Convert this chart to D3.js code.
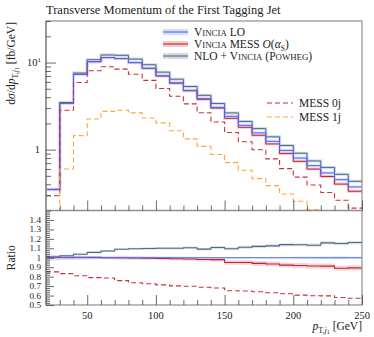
<!DOCTYPE html>
<html>
<head>
<meta charset="utf-8">
<script src="https://cdn.jsdelivr.net/npm/d3@7"></script>
<style>
  body { margin: 0; background: #fff; }
  text { font-family: "Liberation Serif", "DejaVu Serif", serif; fill: #222; }
</style>
</head>
<body>
<script>
// bin edges in GeV (10 GeV bins)
const binEdges = [20, 30, 40, 50, 60, 70, 80, 90, 100, 110, 120, 130, 140, 150, 160, 170, 180, 190, 200, 210, 220, 230, 240, 250];

// dsigma/dpT [fb/GeV]
const vinciaLO = [0.347, 3.4, 7.3, 10.2, 11.4, 11.1, 10.0, 8.6, 7.05, 5.85, 4.8, 3.85, 3.06, 2.41, 1.9, 1.556, 1.245, 0.98, 0.80, 0.655, 0.54, 0.452, 0.373];
const vinciaMESS = [0.350, 3.42, 7.34, 10.24, 11.4, 11.1, 9.97, 8.57, 7.0, 5.79, 4.74, 3.78, 3.0, 2.29, 1.805, 1.463, 1.162, 0.904, 0.734, 0.598, 0.492, 0.402, 0.333];
const nloVincia = [0.349, 3.47, 7.57, 10.78, 12.22, 12.10, 10.96, 9.44, 7.76, 6.44, 5.31, 4.20, 3.39, 2.64, 2.11, 1.743, 1.402, 1.116, 0.910, 0.742, 0.625, 0.520, 0.433];
const mess0j = [0.295, 2.83, 5.91, 8.06, 8.95, 8.41, 7.35, 6.24, 5.03, 4.11, 3.35, 2.65, 2.08, 1.57, 1.23, 0.996, 0.784, 0.606, 0.484, 0.392, 0.322, 0.262, 0.213];
const mess1j = [0.05, 0.6, 1.45, 2.25, 2.75, 2.83, 2.64, 2.31, 2.03, 1.65, 1.33, 1.09, 0.88, 0.71, 0.58, 0.465, 0.386, 0.31, 0.255, 0.204, 0.16, 0.13, 0.10];

// relative uncertainties (bands)
const loErr = [0.03, 0.025, 0.02, 0.015, 0.012, 0.01, 0.01, 0.01, 0.01, 0.01, 0.01, 0.01, 0.008, 0.008, 0.008, 0.008, 0.008, 0.008, 0.01, 0.01, 0.012, 0.012, 0.01];
const messErr = [0.015, 0.012, 0.012, 0.012, 0.015, 0.02, 0.02, 0.018, 0.018, 0.02, 0.02, 0.022, 0.025, 0.025, 0.025, 0.028, 0.028, 0.028, 0.03, 0.03, 0.03, 0.03, 0.03];
const nloErr = [0.01, 0.01, 0.01, 0.01, 0.01, 0.01, 0.01, 0.012, 0.012, 0.012, 0.012, 0.012, 0.014, 0.014, 0.014, 0.014, 0.014, 0.014, 0.015, 0.015, 0.015, 0.015, 0.015];

const W = 374, H = 337;
const L = 46, R = 362, mainTop = 21, mainBot = 210.5, ratioBot = 305;

const svg = d3.select("body").append("svg")
    .attr("width", W)
    .attr("height", H);

const x = d3.scaleLinear().domain([20, 250]).range([L, R]);
const y = d3.scaleLog().domain([0.2, 30]).range([mainBot, mainTop]);
const yr = d3.scaleLinear().domain([0.5, 1.5]).range([ratioBot, mainBot]);

const col = {
    lo: "#4a6bff", loBand: "#d4dcfd",
    mess: "#c0222e", messBand: "#f2cdd0",
    nlo: "#4e6a89", nloBand: "#d2dae4",
    j0: "#c8303c", j1: "#ffa53c"
};

// clip paths
const defs = svg.append("defs");
defs.append("clipPath").attr("id", "clipMain").append("rect")
    .attr("x", L).attr("y", mainTop).attr("width", R - L).attr("height", mainBot - mainTop);
defs.append("clipPath").attr("id", "clipRatio").append("rect")
    .attr("x", L).attr("y", mainBot).attr("width", R - L).attr("height", ratioBot - mainBot);

// step points: one per bin start, plus closing point at last edge
function steps(vals) {
    const pts = vals.map((v, i) => [binEdges[i], v]);
    pts.push([binEdges[binEdges.length - 1], vals[vals.length - 1]]);
    return pts;
}
function bandPts(vals, err) {
    const pts = vals.map((v, i) => [binEdges[i], v * (1 - err[i]), v * (1 + err[i])]);
    pts.push([binEdges[binEdges.length - 1], pts[pts.length - 1][1], pts[pts.length - 1][2]]);
    return pts;
}

const lineMain = d3.line().curve(d3.curveStepAfter).x(d => x(d[0])).y(d => y(Math.max(d[1], 0.05)));
const lineRatio = d3.line().curve(d3.curveStepAfter).x(d => x(d[0])).y(d => yr(d[1]));
const areaMain = d3.area().curve(d3.curveStepAfter).x(d => x(d[0])).y0(d => y(d[1])).y1(d => y(d[2]));
const areaRatio = d3.area().curve(d3.curveStepAfter).x(d => x(d[0])).y0(d => yr(d[1])).y1(d => yr(d[2]));

// ---- main panel ----
const main = svg.append("g").attr("clip-path", "url(#clipMain)");

const solidSeries = [
    { vals: nloVincia, err: nloErr, line: col.nlo, band: col.nloBand },
    { vals: vinciaMESS, err: messErr, line: col.mess, band: col.messBand },
    { vals: vinciaLO, err: loErr, line: col.lo, band: col.loBand }
];

solidSeries.forEach(s => {
    main.append("path")
        .attr("d", lineMain(steps(s.vals)))
        .attr("fill", "none")
        .attr("stroke", s.band)
        .attr("stroke-width", 3);
    main.append("path")
        .attr("d", areaMain(bandPts(s.vals, s.err)))
        .attr("fill", s.band);
});
solidSeries.forEach(s => {
    main.append("path")
        .attr("d", lineMain(steps(s.vals)))
        .attr("fill", "none")
        .attr("stroke", s.line)
        .attr("stroke-width", 1);
});

main.append("path")
    .attr("d", lineMain(steps(mess0j)))
    .attr("fill", "none")
    .attr("stroke", col.j0)
    .attr("stroke-width", 1.1)
    .attr("stroke-dasharray", "5,3");
main.append("path")
    .attr("d", lineMain(steps(mess1j)))
    .attr("fill", "none")
    .attr("stroke", col.j1)
    .attr("stroke-width", 1.1)
    .attr("stroke-dasharray", "5,3");

// ---- ratio panel ----
const ratio = svg.append("g").attr("clip-path", "url(#clipRatio)");
const ratioOf = vals => vals.map((v, i) => v / vinciaLO[i]);

solidSeries.forEach(s => {
    ratio.append("path")
        .attr("d", areaRatio(bandPts(ratioOf(s.vals), s.err)))
        .attr("fill", s.band)
        .attr("opacity", 0.85);
});
solidSeries.forEach(s => {
    ratio.append("path")
        .attr("d", lineRatio(steps(ratioOf(s.vals))))
        .attr("fill", "none")
        .attr("stroke", s.line)
        .attr("stroke-width", 1.1);
});
ratio.append("path")
    .attr("d", lineRatio(steps(ratioOf(mess0j))))
    .attr("fill", "none")
    .attr("stroke", col.j0)
    .attr("stroke-width", 1.1)
    .attr("stroke-dasharray", "5,3");

// ---- frames ----
svg.append("rect")
    .attr("x", L).attr("y", mainTop).attr("width", R - L).attr("height", ratioBot - mainTop)
    .attr("fill", "none").attr("stroke", "#8e8e8e").attr("stroke-width", 1.2);
svg.append("line")
    .attr("x1", L).attr("x2", R).attr("y1", mainBot).attr("y2", mainBot)
    .attr("stroke", "#8e8e8e").attr("stroke-width", 1.6);
svg.append("line")
    .attr("x1", L).attr("x2", L).attr("y1", mainTop).attr("y2", ratioBot)
    .attr("stroke", "#8e8e8e").attr("stroke-width", 1.6);

// ---- ticks ----
const tickCol = "#444";
function drawAxis(axis, tx, ty) {
    const g = svg.append("g").attr("transform", `translate(${tx},${ty})`).call(axis);
    g.select(".domain").remove();
    g.selectAll(".tick line").attr("stroke", tickCol).attr("stroke-width", 0.8);
    g.selectAll(".tick text").remove();
    return g;
}

const logMajor = [1, 10];
const logMinor = [0.2, 0.3, 0.4, 0.5, 0.6, 0.7, 0.8, 0.9, 2, 3, 4, 5, 6, 7, 8, 9, 20, 30];
drawAxis(d3.axisLeft(y).tickValues(logMajor).tickSize(-10), L, 0);
drawAxis(d3.axisLeft(y).tickValues(logMinor).tickSize(-5), L, 0);

const ratioMajor = d3.range(5, 15).map(d => d / 10);
const ratioMinor = d3.range(25, 75).map(d => d / 50).filter(d => Math.abs(d * 10 - Math.round(d * 10)) > 1e-6);
drawAxis(d3.axisLeft(yr).tickValues(ratioMajor).tickSize(-8), L, 0);
drawAxis(d3.axisLeft(yr).tickValues(ratioMinor).tickSize(-4), L, 0);

const xMajor = [50, 100, 150, 200, 250];
const xMinor = d3.range(30, 250, 10).filter(d => d % 50 !== 0);
[mainBot, ratioBot].forEach(yy => {
    drawAxis(d3.axisBottom(x).tickValues(xMajor).tickSize(-10), 0, yy);
    drawAxis(d3.axisBottom(x).tickValues(xMinor).tickSize(-5), 0, yy);
});

// ---- tick labels ----
const labFs = 10.5;
// log axis labels
const l10 = svg.append("text").attr("x", L - 5).attr("y", y(10) + 3.5)
    .attr("text-anchor", "end").attr("font-size", labFs);
l10.append("tspan").text("10");
l10.append("tspan").attr("font-size", 7).attr("dy", -4).text("1");
svg.append("text").attr("x", L - 6).attr("y", y(1) + 3.5)
    .attr("text-anchor", "end").attr("font-size", labFs).text("1");

svg.append("g").selectAll("text")
    .data(ratioMajor)
    .join("text")
    .attr("x", L - 5)
    .attr("y", d => yr(d) + 3)
    .attr("text-anchor", "end")
    .attr("font-size", 9.2)
    .text(d => d3.format("~g")(d));

svg.append("g").selectAll("text")
    .data(xMajor)
    .join("text")
    .attr("x", d => x(d))
    .attr("y", ratioBot + 13.5)
    .attr("text-anchor", "middle")
    .attr("font-size", labFs)
    .text(d => d);

// ---- titles ----
svg.append("text")
    .attr("x", L)
    .attr("y", 14)
    .attr("font-size", 12.5)
    .text("Transverse Momentum of the First Tagging Jet");

// x label
const xl = svg.append("text").attr("x", R).attr("y", 330)
    .attr("text-anchor", "end").attr("font-size", 11.5);
xl.append("tspan").attr("font-style", "italic").text("p");
xl.append("tspan").attr("font-size", 8).attr("dy", 2.5).text("T,");
xl.append("tspan").attr("font-size", 8).attr("font-style", "italic").text("j");
xl.append("tspan").attr("font-size", 6).attr("dy", 1.5).text("1");
xl.append("tspan").attr("dy", -4).text(" [GeV]");

// y label (main)
const yl = svg.append("text")
    .attr("transform", `translate(15,${mainTop + 1}) rotate(-90)`)
    .attr("text-anchor", "end").attr("font-size", 11.5);
yl.append("tspan").text("d");
yl.append("tspan").attr("font-style", "italic").text("σ");
yl.append("tspan").text("/d");
yl.append("tspan").attr("font-style", "italic").text("p");
yl.append("tspan").attr("font-size", 8).attr("dy", 2.5).text("T,");
yl.append("tspan").attr("font-size", 8).attr("font-style", "italic").text("j");
yl.append("tspan").attr("font-size", 6).attr("dy", 1.5).text("1");
yl.append("tspan").attr("dy", -4).text(" [fb/GeV]");

// ratio label
svg.append("text")
    .attr("transform", `translate(15,${(mainBot + ratioBot) / 2}) rotate(-90)`)
    .attr("text-anchor", "middle").attr("font-size", 11.5)
    .text("Ratio");

// ---- legend ----
function smallCaps(t, word, big, small) {
    t.append("tspan").attr("font-size", big).text(word[0]);
    t.append("tspan").attr("font-size", small).text(word.slice(1).toUpperCase());
}
const lgFs = 11.5, lgSc = 8.8;
const legendTop = [
    { y: 32, line: col.lo, band: col.loBand, id: "lo" },
    { y: 44, line: col.mess, band: col.messBand, id: "mess" },
    { y: 56, line: col.nlo, band: col.nloBand, id: "nlo" }
];
legendTop.forEach(d => {
    svg.append("rect").attr("x", 163).attr("y", d.y - 3).attr("width", 25).attr("height", 6)
        .attr("fill", d.band);
    svg.append("line").attr("x1", 163).attr("x2", 188).attr("y1", d.y).attr("y2", d.y)
        .attr("stroke", d.line).attr("stroke-width", 1.1);
    const t = svg.append("text").attr("x", 194).attr("y", d.y + 4).attr("font-size", lgFs);
    if (d.id === "lo") {
        smallCaps(t, "Vincia", lgFs, lgSc);
        t.append("tspan").text(" LO");
    } else if (d.id === "mess") {
        smallCaps(t, "Vincia", lgFs, lgSc);
        t.append("tspan").text(" MESS ");
        t.append("tspan").attr("font-style", "italic").text("O");
        t.append("tspan").text("(");
        t.append("tspan").attr("font-style", "italic").text("α");
        t.append("tspan").attr("font-size", 7.5).attr("dy", 2.5).text("S");
        t.append("tspan").attr("dy", -2.5).text(")");
    } else {
        t.append("tspan").text("NLO + ");
        smallCaps(t, "Vincia", lgFs, lgSc);
        t.append("tspan").text(" (");
        smallCaps(t, "Powheg", lgFs, lgSc);
        t.append("tspan").text(")");
    }
});

const legendLow = [
    { y: 103, color: col.j0, label: "MESS 0j" },
    { y: 117, color: col.j1, label: "MESS 1j" }
];
legendLow.forEach(d => {
    svg.append("line").attr("x1", 267).attr("x2", 293).attr("y1", d.y).attr("y2", d.y)
        .attr("stroke", d.color).attr("stroke-width", 1.1).attr("stroke-dasharray", "5,3");
    svg.append("text").attr("x", 299).attr("y", d.y + 4).attr("font-size", lgFs).text(d.label);
});
</script>
</body>
</html>
